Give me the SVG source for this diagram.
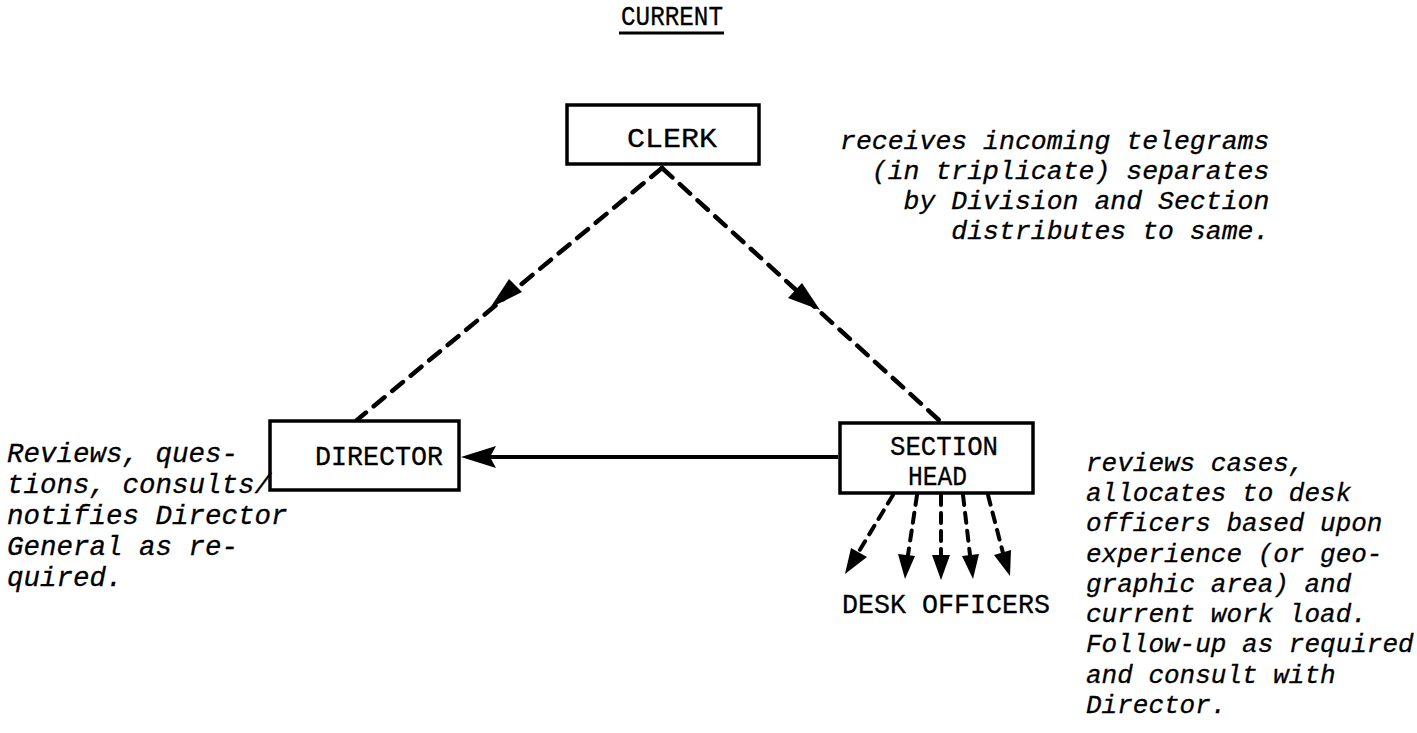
<svg xmlns="http://www.w3.org/2000/svg" width="1417" height="733" viewBox="0 0 1417 733">
<defs>
<style>
.box{fill:#fff;stroke:#000;stroke-width:3.5}
.lbl{font-family:"Liberation Mono","DejaVu Sans Mono",monospace;font-size:27px;fill:#000;stroke:#000;stroke-width:0.3}
.note{font-family:"Liberation Mono","DejaVu Sans Mono",monospace;font-style:italic;fill:#000;stroke:#000;stroke-width:0.3}
.n1{font-size:26.5px}
.n2{font-size:27.5px}
.n3{font-size:26px}
.dash{stroke:#000;stroke-width:4.5;stroke-dasharray:14,10;fill:none;stroke-linecap:round}
.dsm{stroke:#000;stroke-width:4;stroke-dasharray:10,8;fill:none;stroke-linecap:round}
.solid{stroke:#000;stroke-width:4;fill:none}
.head{fill:#000}
</style>
</defs>
<rect width="1417" height="733" fill="#fff"/>
<g id="title">
<text class="lbl" x="621" y="25" textLength="102" lengthAdjust="spacingAndGlyphs">CURRENT</text>
<line x1="619" y1="33" x2="724" y2="33" stroke="#000" stroke-width="3"/>
</g>
<g id="connectors">
<line class="dash" x1="662" y1="168" x2="357" y2="420"/>
<line class="dash" x1="662" y1="168" x2="940" y2="421"/>
<polygon class="head" points="490,308 509,279 522,292"/>
<polygon class="head" points="820,310 788,298 802,283"/>
<line class="solid" x1="838" y1="457" x2="490" y2="457"/>
<polygon class="head" points="461,457 496,446 490,457 496,468"/>
<line class="dsm" x1="893" y1="495" x2="858" y2="553"/>
<polygon class="head" points="845,574 851,548 867,557"/>
<line class="dsm" x1="917" y1="495" x2="908" y2="555"/>
<polygon class="head" points="905,579 898,554 915,556"/>
<line class="dsm" x1="941" y1="495" x2="941" y2="556"/>
<polygon class="head" points="941,580 932,555 950,555"/>
<line class="dsm" x1="963" y1="495" x2="970" y2="555"/>
<polygon class="head" points="973,579 962,556 979,554"/>
<line class="dsm" x1="988" y1="495" x2="1003" y2="553"/>
<polygon class="head" points="1010,576 994,555 1011,550"/>
</g>
<g id="clerk">
<rect class="box" x="567" y="105" width="192" height="59"/>
<text class="lbl" x="627" y="147" textLength="90" lengthAdjust="spacingAndGlyphs">CLERK</text>
</g>
<g id="director">
<rect class="box" x="270" y="421" width="189" height="69"/>
<text class="lbl" x="315" y="465" textLength="128" lengthAdjust="spacingAndGlyphs">DIRECTOR</text>
</g>
<g id="section-head">
<rect class="box" x="840" y="423" width="193" height="70"/>
<text class="lbl" x="890" y="455" textLength="108" lengthAdjust="spacingAndGlyphs">SECTION</text>
<text class="lbl" x="908" y="485" textLength="59" lengthAdjust="spacingAndGlyphs">HEAD</text>
</g>
<g id="desk-officers">
<text class="lbl" x="842" y="613" textLength="208" lengthAdjust="spacingAndGlyphs">DESK OFFICERS</text>
</g>
<g id="clerk-note" class="note n1">
<text x="840" y="149">receives incoming telegrams</text>
<text x="871.8" y="179">(in triplicate) separates</text>
<text x="903.6" y="209">by Division and Section</text>
<text x="951.3" y="239">distributes to same.</text>
</g>
<g id="director-note" class="note n2">
<text x="7" y="462">Reviews, ques-</text>
<text x="7" y="493">tions, consults/</text>
<text x="7" y="524">notifies Director</text>
<text x="7" y="555">General as re-</text>
<text x="7" y="586">quired.</text>
</g>
<g id="section-note" class="note n3">
<text x="1086" y="471">reviews cases,</text>
<text x="1086" y="501">allocates to desk</text>
<text x="1086" y="531">officers based upon</text>
<text x="1086" y="562">experience (or geo-</text>
<text x="1086" y="592">graphic area) and</text>
<text x="1086" y="622">current work load.</text>
<text x="1086" y="652">Follow-up as required</text>
<text x="1086" y="683">and consult with</text>
<text x="1086" y="713">Director.</text>
</g>
</svg>
